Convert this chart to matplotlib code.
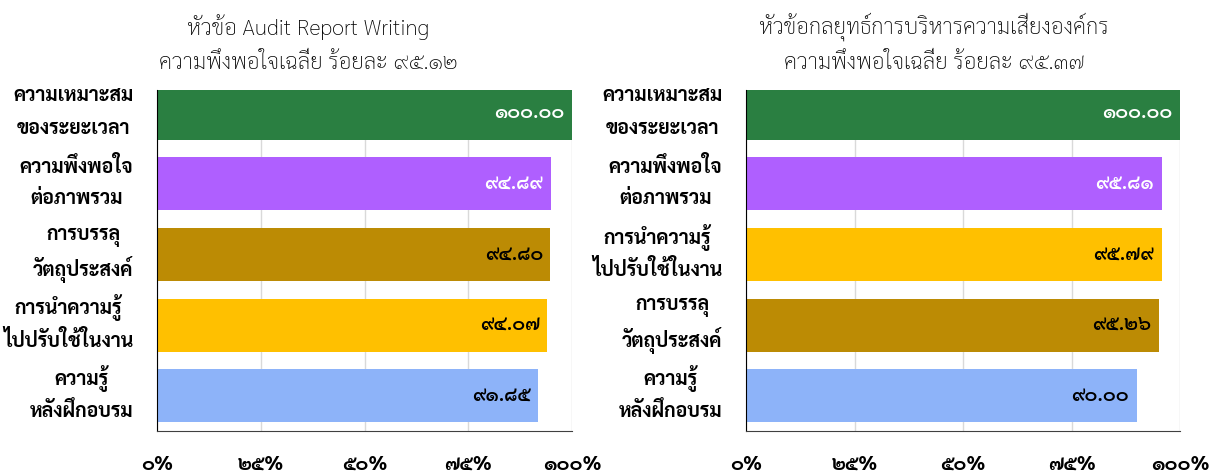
import matplotlib
matplotlib.use('Agg')
import matplotlib.pyplot as plt

plt.rcParams['font.family'] = ['Sarabun', 'DejaVu Sans']

left_title = ['หัวข้อ Audit Report Writing', 'ความพึงพอใจเฉลี่ย ร้อยละ ๙๕.๑๒']
left_labels = [('ความเหมาะสม', 'ของระยะเวลา'), ('ความพึงพอใจ', 'ต่อภาพรวม'), ('การบรรลุ', 'วัตถุประสงค์'),
               ('การนำความรู้', 'ไปปรับใช้ในงาน'), ('ความรู้', 'หลังฝึกอบรม')]
left_values = [100.00, 94.89, 94.80, 94.07, 91.85]
left_colors = ['#2A7F41', '#AF5FFF', '#BC8B04', '#FFC000', '#8DB3F9']
left_text = ['white', 'white', 'black', 'black', 'black']

right_title = ['หัวข้อกลยุทธ์การบริหารความเสี่ยงองค์กร', 'ความพึงพอใจเฉลี่ย ร้อยละ ๙๕.๓๗']
right_labels = [('ความเหมาะสม', 'ของระยะเวลา'), ('ความพึงพอใจ', 'ต่อภาพรวม'), ('การนำความรู้', 'ไปปรับใช้ในงาน'),
                ('การบรรลุ', 'วัตถุประสงค์'), ('ความรู้', 'หลังฝึกอบรม')]
right_values = [100.00, 95.81, 95.79, 95.26, 90.00]
right_colors = ['#2A7F41', '#AF5FFF', '#FFC000', '#BC8B04', '#8DB3F9']
right_text = ['white', 'white', 'black', 'black', 'black']

xticks = [0, 25, 50, 75, 100]

THAI = str.maketrans('0123456789', '๐๑๒๓๔๕๖๗๘๙')


def thai(s):
    return s.translate(THAI)


def draw(ax, labels, values, colors, tcolors):
    y = list(range(len(values)))
    ax.barh(y, values, height=0.75, color=colors, zorder=2)
    for yi, v, c in zip(y, values, tcolors):
        ax.text(v - 1.8, yi, thai(f'{v:.2f}'), ha='right', va='center',
                color=c, fontsize=14, fontweight='semibold', zorder=3)
    ax.set_ylim(4.5, -0.33)
    ax.set_xlim(0, 100)
    ax.set_xticks(xticks)
    ax.set_xticklabels([thai(f'{t}%') for t in xticks], fontsize=14, fontweight='bold')
    ax.set_yticks([])
    ax.tick_params(axis='x', length=0, pad=18)
    ax.grid(axis='x', color='#D9D9D9', linewidth=1, zorder=0)
    ax.spines['top'].set_visible(False)
    ax.spines['right'].set_visible(False)
    ax.spines['left'].set_color('black')
    ax.spines['bottom'].set_color('#404040')

    # two-line category labels, lines centred on each other, block right-aligned
    pairs = []
    for yi, (a, b) in zip(y, labels):
        ta = ax.annotate(a, xy=(0, yi), xycoords=('axes fraction', 'data'),
                         xytext=(-17, 12.5), textcoords='offset points',
                         ha='right', va='center', fontsize=14, fontweight='bold')
        tb = ax.annotate(b, xy=(0, yi), xycoords=('axes fraction', 'data'),
                         xytext=(-17, -11), textcoords='offset points',
                         ha='right', va='center', fontsize=14, fontweight='bold')
        pairs.append((ta, tb))
    return pairs


fig = plt.figure(figsize=(12.17, 4.74), dpi=100)
ax1 = fig.add_axes([157 / 1217, 43 / 474, 415 / 1217, 341 / 474])
ax2 = fig.add_axes([746 / 1217, 43 / 474, 434 / 1217, 341 / 474])

pairs = draw(ax1, left_labels, left_values, left_colors, left_text)
pairs += draw(ax2, right_labels, right_values, right_colors, right_text)

fig.canvas.draw()
r = fig.canvas.get_renderer()
for ta, tb in pairs:
    wa = ta.get_window_extent(r).width
    wb = tb.get_window_extent(r).width
    shift = abs(wa - wb) / 2 * 72 / fig.dpi
    if wa < wb:
        ta.xyann = (ta.xyann[0] - shift, ta.xyann[1])
    else:
        tb.xyann = (tb.xyann[0] - shift, tb.xyann[1])

for x, lines in [(308, left_title), (934, right_title)]:
    fig.text(x / 1217, 1 - 27 / 474, lines[0], ha='center', va='center',
             fontsize=16, fontweight='light')
    fig.text(x / 1217, 1 - 63 / 474, lines[1], ha='center', va='center',
             fontsize=16, fontweight='light')

fig.savefig('out.png', dpi=100)
